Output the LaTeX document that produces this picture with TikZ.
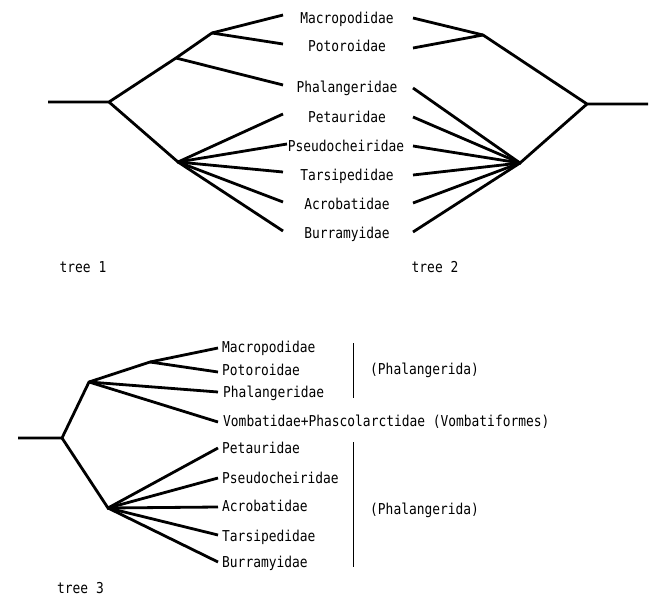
\documentclass[tikz,border=0pt]{standalone}
\usepackage{fontspec}
\usepackage{graphicx}
\newfontfamily\labfont{DejaVu Sans Mono}
\newcommand\lx[1]{\scalebox{0.86}[1]{#1}}
\begin{document}
\begin{tikzpicture}[x=1pt,y=-1pt,
  br/.style={line width=2.8pt,line cap=butt,line join=miter},
  bar/.style={line width=1pt},
  lab/.style={font=\labfont\fontsize{15}{17}\selectfont,inner sep=0pt,text=black,anchor=base},
  llab/.style={lab,anchor=base west}]
\useasboundingbox (0,0) rectangle (652,602);
% ---------- tree 1 ----------
\coordinate (r1) at (48,102);
\coordinate (a1) at (109,102);
\coordinate (b1) at (176,58);
\coordinate (c1) at (212,33);
\coordinate (d1) at (178,162);
\coordinate (t1m) at (283,15);
\coordinate (t1po) at (283,44);
\coordinate (t1ph) at (283,85);
\coordinate (t1pe) at (283,114);
\coordinate (t1ps) at (287,144);
\coordinate (t1ta) at (283,172);
\coordinate (t1ac) at (283,202);
\coordinate (t1bu) at (283,231);
\draw[br] (r1) -- (a1) -- (b1) -- (c1) -- (t1m);
\draw[br] (c1) -- (t1po);
\draw[br] (b1) -- (t1ph);
\draw[br] (a1) -- (d1) -- (t1pe);
\foreach \t in {t1ps,t1ta,t1ac,t1bu} \draw[br] (d1) -- (\t);
% ---------- labels (shared) ----------
\node[lab] (lmac) at (347,23.5) {\lx{Macropodidae}};
\node[lab] (lpot) at (347,51.5) {\lx{Potoroidae}};
\node[lab] (lpha) at (347,92.5) {\lx{Phalangeridae}};
\node[lab] (lpet) at (347,122.5) {\lx{Petauridae}};
\node[lab] (lpse) at (346,151.5) {\lx{Pseudocheiridae}};
\node[lab] (ltar) at (347,180) {\lx{Tarsipedidae}};
\node[lab] (lacr) at (347,209.5) {\lx{Acrobatidae}};
\node[lab] (lbur) at (347,238.5) {\lx{Burramyidae}};
% ---------- tree 2 ----------
\coordinate (r2) at (648,104);
\coordinate (a2) at (587,104);
\coordinate (c2) at (483,35);
\coordinate (d2) at (520,163);
\coordinate (t2m) at (413,18);
\coordinate (t2po) at (413,48);
\coordinate (t2ph) at (413,88);
\coordinate (t2pe) at (413,117);
\coordinate (t2ps) at (413,146);
\coordinate (t2ta) at (413,175);
\coordinate (t2ac) at (413,203);
\coordinate (t2bu) at (413,232);
\draw[br] (r2) -- (a2) -- (c2) -- (t2m);
\draw[br] (c2) -- (t2po);
\draw[br] (a2) -- (d2) -- (t2ph);
\foreach \t in {t2pe,t2ps,t2ta,t2ac,t2bu} \draw[br] (d2) -- (\t);
\node[lab] (tree1) at (83,272.5) {\lx{tree 1}};
\node[lab] (tree2) at (435,272.5) {\lx{tree 2}};
% ---------- tree 3 ----------
\coordinate (r3) at (18,438);
\coordinate (a3) at (62,438);
\coordinate (b3) at (89,382);
\coordinate (c3) at (150,362);
\coordinate (d3) at (108,508);
\coordinate (t3m) at (218,348);
\coordinate (t3po) at (218,372);
\coordinate (t3ph) at (218,392);
\coordinate (t3vo) at (218,422);
\coordinate (t3pe) at (218,448);
\coordinate (t3ps) at (218,478);
\coordinate (t3ac) at (218,507);
\coordinate (t3ta) at (218,535);
\coordinate (t3bu) at (218,562);
\draw[br] (r3) -- (a3) -- (b3) -- (c3) -- (t3m);
\draw[br] (c3) -- (t3po);
\draw[br] (b3) -- (t3ph);
\draw[br] (b3) -- (t3vo);
\draw[br] (a3) -- (d3) -- (t3pe);
\foreach \t in {t3ps,t3ac,t3ta,t3bu} \draw[br] (d3) -- (\t);
\node[llab] (mmac) at (222,352.5) {\lx{Macropodidae}};
\node[llab] (mpot) at (222,375.5) {\lx{Potoroidae}};
\node[llab] (mpha) at (223,397.5) {\lx{Phalangeridae}};
\node[llab] (mvom) at (223,426.5) {\lx{Vombatidae+Phascolarctidae (Vombatiformes)}};
\node[llab] (mpet) at (222,453.5) {\lx{Petauridae}};
\node[llab] (mpse) at (222,483.5) {\lx{Pseudocheiridae}};
\node[llab] (macr) at (222,511.5) {\lx{Acrobatidae}};
\node[llab] (mtar) at (222,541.5) {\lx{Tarsipedidae}};
\node[llab] (mbur) at (222,567.5) {\lx{Burramyidae}};
\coordinate (v1a) at (353,343);
\coordinate (v1b) at (353,398);
\coordinate (v2a) at (353,442);
\coordinate (v2b) at (353,567);
\draw[bar] (v1a) -- (v1b);
\draw[bar] (v2a) -- (v2b);
\node[llab] (grp1) at (370,374.5) {\lx{(Phalangerida)}};
\node[llab] (grp2) at (370,514.5) {\lx{(Phalangerida)}};
\node[llab] (tree3) at (57,593.5) {\lx{tree 3}};
\end{tikzpicture}
\end{document}
